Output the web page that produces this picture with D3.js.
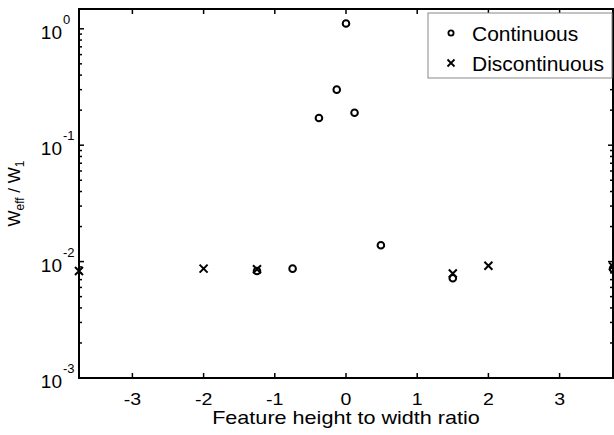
<!DOCTYPE html>
<html lang="en">
<head>
    <meta charset="UTF-8">
    <title>Weff / W1</title>
    <script src="https://cdnjs.cloudflare.com/ajax/libs/d3/7.8.5/d3.min.js"></script>
    <style>
    html, body {
        margin: 0;
        background: white;
        overflow: hidden;
    }
    text {
        font-family: "Liberation Sans", Arial, sans-serif;
        fill: black;
    }
    </style>
</head>
<body>
    <div id="vis"></div>
    <script>
    // data
    var contX = [0, -0.13, 0.12, -0.38, 0.49, -0.75, -1.25, 1.5, 3.75];
    var contY = [1.11, 0.30, 0.19, 0.171, 0.0138, 0.0087, 0.0083, 0.0072, 0.0087];

    var discX = [-3.75, -2, -1.25, 1.5, 2, 3.75];
    var discY = [0.0083, 0.0087, 0.0086, 0.0079, 0.0092, 0.0091];

    var xTicks = [-3, -2, -1, 0, 1, 2, 3];
    var yTicks = [-3, -2, -1, 0];  // exponents

    var legendLabels = ['Continuous', 'Discontinuous'];

    var width = 614;
    var height = 435;

    var margin = {
        top: 9,
        bottom: 57,
        left: 79,
        right: 1
    };

    var w = width - margin.left - margin.right;
    var h = height - margin.top - margin.bottom;

    var svg = d3.select('#vis')
        .append('svg')
            .attr('width', width)
            .attr('height', height)
        .append('g')
            .attr('transform', 'translate(' + margin.left + ',' + margin.top + ')');

    var x = d3.scaleLinear()
        .domain([-3.75, 3.75])
        .range([0, w]);

    var y = d3.scaleLog()
        .domain([1e-3, Math.pow(10, 0.17)])
        .range([h, 0]);

    // minor ticks on log axis
    var minor = [];
    for (var e = -3; e <= 0; e++) {
        for (var m = 2; m <= 9; m++) {
            var v = m * Math.pow(10, e);
            if (v < y.domain()[1]) minor.push(v);
        }
    }

    var tickStroke = 1.5;

    // x ticks bottom and top
    xTicks.forEach(function(t) {
        svg.append('line')
            .attr('x1', x(t)).attr('x2', x(t))
            .attr('y1', h).attr('y2', h - 5)
            .attr('stroke', 'black').attr('stroke-width', tickStroke);
        svg.append('line')
            .attr('x1', x(t)).attr('x2', x(t))
            .attr('y1', 0).attr('y2', 5)
            .attr('stroke', 'black').attr('stroke-width', tickStroke);
        svg.append('text')
            .attr('transform', 'translate(' + x(t) + ',' + (h + 27) + ') scale(1.15,1)')
            .attr('text-anchor', 'middle')
            .attr('font-size', 17)
            .text(t);
    });

    // y major ticks left/right
    yTicks.forEach(function(e) {
        var yy = y(Math.pow(10, e));
        svg.append('line')
            .attr('x1', 0).attr('x2', 5)
            .attr('y1', yy).attr('y2', yy)
            .attr('stroke', 'black').attr('stroke-width', tickStroke);
        svg.append('line')
            .attr('x1', w).attr('x2', w - 5)
            .attr('y1', yy).attr('y2', yy)
            .attr('stroke', 'black').attr('stroke-width', tickStroke);
        svg.append('text')
            .attr('x', -17)
            .attr('y', yy + 10)
            .attr('text-anchor', 'end')
            .attr('font-size', 19)
            .text('10');
        svg.append('text')
            .attr('x', -16)
            .attr('y', yy - 5)
            .attr('font-size', 13)
            .text(e === 0 ? '0' : '-' + Math.abs(e));
    });

    minor.forEach(function(v) {
        var yy = y(v);
        svg.append('line')
            .attr('x1', 0).attr('x2', 3)
            .attr('y1', yy).attr('y2', yy)
            .attr('stroke', 'black').attr('stroke-width', tickStroke);
        svg.append('line')
            .attr('x1', w).attr('x2', w - 3)
            .attr('y1', yy).attr('y2', yy)
            .attr('stroke', 'black').attr('stroke-width', tickStroke);
    });

    // box
    svg.append('rect')
        .attr('x', 0).attr('y', 0)
        .attr('width', w).attr('height', h)
        .attr('fill', 'none')
        .attr('stroke', 'black')
        .attr('stroke-width', 2);

    // axis labels
    svg.append('text')
        .attr('transform', 'translate(' + x(0) + ',' + (h + 46) + ') scale(1.2,1)')
        .attr('text-anchor', 'middle')
        .attr('font-size', 18)
        .text('Feature height to width ratio');

    var ylab = svg.append('text')
        .attr('transform', 'translate(' + (-59) + ',' + (h / 2) + ') rotate(-90)')
        .attr('text-anchor', 'middle')
        .attr('font-size', 17);
    ylab.append('tspan').text('W');
    ylab.append('tspan').attr('font-size', 12).attr('dy', 4).text('eff');
    ylab.append('tspan').attr('dy', -4).text(' / W');
    ylab.append('tspan').attr('font-size', 12).attr('dy', 4).text('1');

    // markers
    var cont = contX.map(function(d, i) { return {x: d, y: contY[i]}; });
    var disc = discX.map(function(d, i) { return {x: d, y: discY[i]}; });

    svg.selectAll('.cont')
        .data(cont)
        .enter()
        .append('circle')
        .attr('class', 'cont')
        .attr('cx', function(d) { return x(d.x); })
        .attr('cy', function(d) { return y(d.y); })
        .attr('r', 3.3)
        .attr('fill', 'none')
        .attr('stroke', 'black')
        .attr('stroke-width', 2);

    var cross = 'M-4,-4L4,4M-4,4L4,-4';

    svg.selectAll('.disc')
        .data(disc)
        .enter()
        .append('path')
        .attr('class', 'disc')
        .attr('transform', function(d) { return 'translate(' + x(d.x) + ',' + y(d.y) + ')'; })
        .attr('d', cross)
        .attr('stroke', 'black')
        .attr('stroke-width', 2);

    // legend
    var lg = svg.append('g')
        .attr('transform', 'translate(' + (428 - margin.left) + ',' + (13 - margin.top) + ')');

    lg.append('rect')
        .attr('width', 184)
        .attr('height', 65)
        .attr('fill', 'white')
        .attr('stroke', '#888')
        .attr('stroke-width', 1);

    lg.append('circle')
        .attr('cx', 23).attr('cy', 20).attr('r', 2.6)
        .attr('fill', 'none').attr('stroke', 'black').attr('stroke-width', 1.8);
    lg.append('path')
        .attr('transform', 'translate(23,50)')
        .attr('d', 'M-3.5,-3.5L3.5,3.5M-3.5,3.5L3.5,-3.5')
        .attr('stroke', 'black').attr('stroke-width', 1.8);

    legendLabels.forEach(function(t, i) {
        lg.append('text')
            .attr('x', 44)
            .attr('y', 28 + i * 30)
            .attr('font-size', 21)
            .text(t);
    });
    </script>
</body>
</html>
